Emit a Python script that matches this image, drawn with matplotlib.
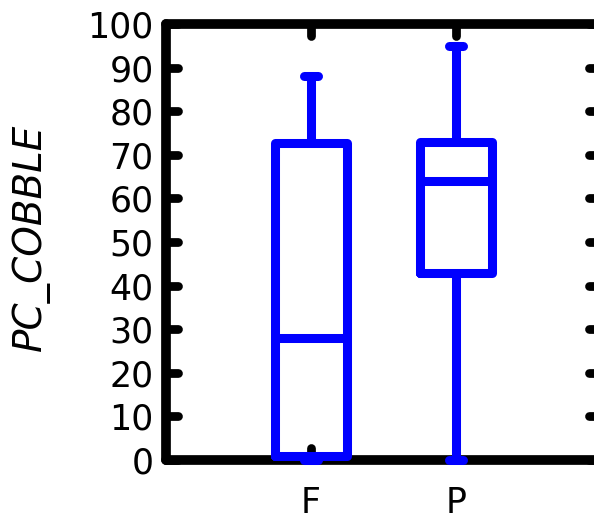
import matplotlib
matplotlib.use("Agg")
import matplotlib.pyplot as plt
from matplotlib.markers import MarkerStyle, TICKLEFT, TICKRIGHT, TICKUP, TICKDOWN

# Box plot summary statistics for PC_COBBLE by group
groups = ["F", "P"]
whisker_low = [0.0, 0.0]
quartile_1 = [0.9, 43.0]
medians = [28.0, 64.0]
quartile_3 = [72.6, 73.0]
whisker_high = [88.0, 95.0]
y_ticks = list(range(0, 101, 10))

BLUE = "#0000ff"
LW = 6.5

fig = plt.figure(figsize=(5.94, 5.24), dpi=100)
ax = fig.add_axes([166 / 594, 1 - 460 / 524, 435 / 594, 436 / 524])

stats = [
    dict(label=g, whislo=lo, q1=a, med=m, q3=b, whishi=hi, fliers=[])
    for g, lo, a, m, b, hi in zip(groups, whisker_low, quartile_1, medians,
                                  quartile_3, whisker_high)
]
line_kw = dict(color=BLUE, linewidth=LW, solid_capstyle="round",
               solid_joinstyle="round")
art = ax.bxp(stats, positions=[1, 2], widths=0.5, capwidths=0.1,
             showfliers=False, boxprops=line_kw, whiskerprops=line_kw,
             capprops=line_kw, medianprops=line_kw,
             manage_ticks=False, zorder=3)
for key in ("boxes", "whiskers", "caps", "medians"):
    for a in art[key]:
        a.set_clip_on(False)

ax.set_xlim(0, 3)
ax.set_ylim(0, 100)
ax.set_xticks([1, 2])
ax.set_xticklabels(groups)
ax.set_yticks(y_ticks)

for s in ax.spines.values():
    s.set_linewidth(7)
    s.set_color("black")
    s.set_capstyle("round")
    s.set_joinstyle("round")

ax.tick_params(direction="in", length=8.6, width=6.3, color="black",
               top=True, right=True, labelsize=25)
ax.tick_params(axis="x", pad=19)
ax.tick_params(axis="y", pad=9)

# rounded tick ends
for t in ax.yaxis.get_major_ticks():
    t.tick1line.set_marker(MarkerStyle(TICKRIGHT, capstyle="round"))
    t.tick2line.set_marker(MarkerStyle(TICKLEFT, capstyle="round"))
for t in ax.xaxis.get_major_ticks():
    t.tick1line.set_marker(MarkerStyle(TICKUP, capstyle="round"))
    t.tick2line.set_marker(MarkerStyle(TICKDOWN, capstyle="round"))

ax.set_ylabel("PC_COBBLE", fontsize=28, fontstyle="italic", va="center")
ax.yaxis.set_label_coords(-0.31, 0.51)

fig.savefig("out.png", dpi=100)
